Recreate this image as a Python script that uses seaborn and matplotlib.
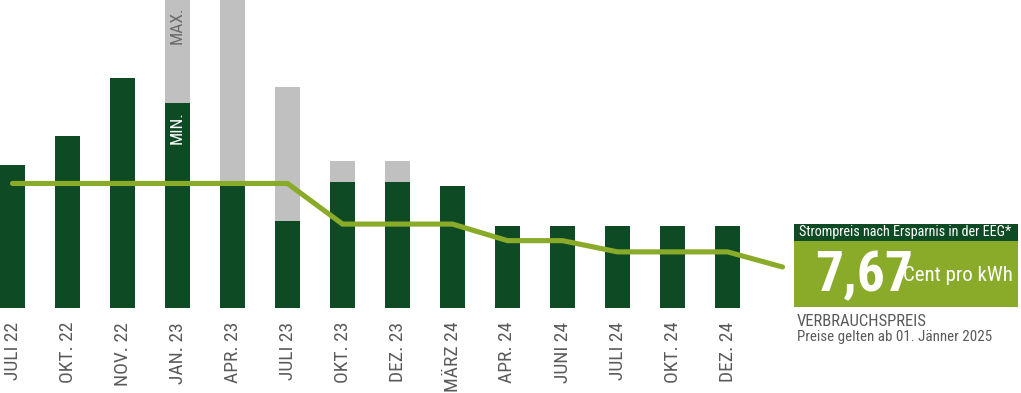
import numpy as np
import pandas as pd
import seaborn as sns
import matplotlib
matplotlib.use("Agg")
import matplotlib.pyplot as plt
from matplotlib import font_manager
from matplotlib.patches import Rectangle

# ---------------- data ----------------
labels = ["JULI 22", "OKT. 22", "NOV. 22", "JAN. 23", "APR. 23", "JULI 23",
          "OKT. 23", "DEZ. 23", "MÄRZ 24", "APR. 24", "JUNI 24", "JULI 24",
          "OKT. 24", "DEZ. 24"]
price_min = [26.8, 32.2, 43.0, 38.4, 22.8, 16.3, 23.6, 23.6, 22.8,
             15.3, 15.3, 15.3, 15.3, 15.3]
price_max = [26.8, 32.2, 43.0, 65.0, 80.0, 41.4, 27.5, 27.5, 22.8,
             15.3, 15.3, 15.3, 15.3, 15.3]
eeg_price = [23.3, 23.3, 23.3, 23.3, 23.3, 23.3, 15.7, 15.7, 15.7,
             12.6, 12.6, 10.5, 10.5, 10.5, 7.67]
eeg_value_text = "7,67"

# ---------------- style ----------------
sns.set_style("white")
names = {f.name for f in font_manager.fontManager.ttflist}
narrow = "Liberation Sans"
for cand in ["Arial Narrow", "Liberation Sans Narrow", "Roboto Condensed",
             "Archivo Narrow", "PT Sans Narrow", "Liberation Sans"]:
    if cand in names:
        narrow = cand
        break
plt.rcParams["font.family"] = [narrow, "DejaVu Sans"]

DARK = "#0e4b24"
LIGHT = "#8aab2a"
GRAY = "#c0c0c0"
TXT = "#5a5a5a"

W, H = 1021, 393
fig = plt.figure(figsize=(W / 100, H / 100), dpi=100)
base_px = 308
ax = fig.add_axes([0, (H - base_px) / H, 1, base_px / H])

pos = np.arange(len(labels))
df = pd.DataFrame({"pos": pos, "lab": labels, "min": price_min, "max": price_max})

sns.barplot(data=df, x="pos", y="max", native_scale=True, color=GRAY,
            saturation=1, width=25 / 55, linewidth=0, ax=ax, zorder=1)
sns.barplot(data=df, x="pos", y="min", native_scale=True, color=DARK,
            saturation=1, width=25 / 55, linewidth=0, ax=ax, zorder=2)

ldf = pd.DataFrame({"x": np.arange(len(eeg_price)), "y": eeg_price})
sns.lineplot(data=ldf, x="x", y="y", color=LIGHT, linewidth=3.7, ax=ax,
             zorder=3, solid_capstyle="round", solid_joinstyle="miter")

scale = 5.345  # px per unit
ax.set_ylim(0, base_px / scale)
ax.set_xlim(-12.5 / 55, (W - 12.5) / 55)
ax.set_xticks(pos)
ax.set_xticklabels(labels, rotation=90, fontsize=14, color=TXT, va="top", ha="center")
ax.tick_params(axis="x", length=0, pad=10)
ax.set_yticks([])
ax.set_xlabel("")
ax.set_ylabel("")
for s in ax.spines.values():
    s.set_visible(False)

# MIN / MAX labels on JAN. 23 bar
ax.text(3, (base_px - 6) / scale, "MAX.", rotation=90, ha="center", va="top",
        color="#6b6b6b", fontsize=12.5, zorder=5)
ax.text(3, (base_px - 111) / scale, "MIN.", rotation=90, ha="center", va="top",
        color="white", fontsize=12.5, zorder=5)

# ---------------- info box ----------------
def fx(x):
    return x / W

def fy(y):
    return 1 - y / H

fig.add_artist(Rectangle((fx(794), fy(307)), fx(1018) - fx(794), fy(240.5) - fy(307),
                         transform=fig.transFigure, facecolor=LIGHT, edgecolor="none"))
fig.add_artist(Rectangle((fx(794), fy(240.5)), fx(1018) - fx(794), fy(224) - fy(240.5),
                         transform=fig.transFigure, facecolor=DARK, edgecolor="none"))
fig.text(fx(799), fy(236), "Strompreis nach Ersparnis in der EEG*", color="white",
         fontsize=10.2, ha="left", va="baseline")
fig.text(fx(815), fy(291.5), eeg_value_text, color="white", fontsize=40,
         fontweight="bold", ha="left", va="baseline")
fig.text(fx(903), fy(281), "Cent pro kWh", color="white", fontsize=15,
         ha="left", va="baseline")
fig.text(fx(797), fy(326), "VERBRAUCHSPREIS", color=TXT, fontsize=12,
         ha="left", va="baseline")
fig.text(fx(797), fy(341), "Preise gelten ab 01. Jänner 2025", color=TXT, fontsize=10.8,
         ha="left", va="baseline")

fig.savefig("out.png", dpi=100)
